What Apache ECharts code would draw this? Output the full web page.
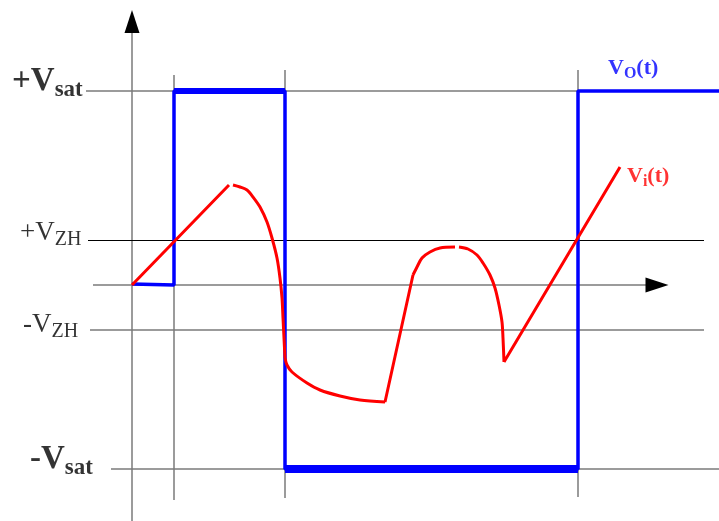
<!DOCTYPE html>
<html><head><meta charset="utf-8">
<script src="https://cdn.jsdelivr.net/npm/echarts@6/dist/echarts.min.js"></script>
<style>html,body{margin:0;padding:0;background:#fff}#c{width:719px;height:521px}</style>
</head><body><div id="c"></div>
<script>
// ---- axis ranges (arbitrary time / voltage units) ----
const tRange = [-13.2, 58.7];
const vRange = [-23.6, 28.5];

// ---- threshold / saturation levels ----
const levelNames  = ['+Vsat', '+VZH', '0', '-VZH', '-Vsat'];
const levelValues = [19.4, 4.5, 0, -4.5, -18.4];
const levelStart  = [-4.6, -4.4, -3.9, -4.2, -2.1];
const levelEnd    = [58.7, 57.2, 52.5, 57.2, 58.7];

// ---- switching instants ----
const switchTimes = [4.2, 15.3, 44.6];
const switchTop   = [21.0, 21.5, 21.5];
const switchBot   = [-21.5, -21.3, -21.2];

// ---- vertical (voltage) axis extent ----
const vAxisExtent = [-23.6, 26.35];

// ---- output voltage Vo(t) ----
const voT = [0, 4.2, 4.2, 15.3, 15.3, 44.6, 44.6, 58.7];
const voV = [0.1, 0, 19.4, 19.4, -18.4, -18.4, 19.4, 19.4];

// ---- input voltage Vi(t): pieces separated by null (pen lift / corner) ----
const viT = [0, 9.7, null,
  10.1, 10.8, 11.5, 12.1, 12.8, 13.5, 14.0, 14.5, 14.8, 15.0, 15.1, 15.2, 15.3, null,
  15.3, 15.5, 16.0, 17.5, 18.8, 20.8, 22.8, 25.3, null,
  25.3, 28.1, null,
  28.1, 28.5, 29.0, 29.8, 30.8, 32.3, null,
  32.7, 33.6, 34.5, 35.1, 35.8, 36.3, 36.7, 37.0, 37.1, 37.2, null,
  37.2, 48.8];
const viV = [0, 10.0, null,
  10.0, 9.8, 9.5, 8.8, 7.8, 6.3, 4.7, 2.7, 0.7, -1.3, -3.3, -5.3, -7.3, null,
  -7.3, -8.0, -8.7, -9.8, -10.5, -11.1, -11.5, -11.7, null,
  -11.7, 1.0, null,
  1.0, 1.8, 2.7, 3.3, 3.7, 3.8, null,
  3.8, 3.6, 3.0, 2.2, 1.0, -0.3, -2.0, -3.7, -5.3, -7.7, null,
  -7.7, 11.8];

// ---- text labels ----
const labelTexts = ['{mb|+V}{sb|sat}', '{mr|+V}{sr|ZH}', '{mr|-V}{sr|ZH}', '{mb|-V}{sb|sat}', '{om|V}{os|O}{om|(t)}', '{im|V}{is|i}{im|(t)}'];
const labelT = [-12.0, -11.2, -10.9, -10.2, 47.6, 49.5];
const labelV = [18.3, 3.5, -5.7, -19.5, 20.3, 9.5];

const vo = voT.map((t, i) => [t, voV[i]]);
const vi = viT.map((t, i) => (t === null ? '-' : [t, viV[i]]));

const grayLines = [], blackLines = [];
levelValues.forEach((v, i) => {
  if (levelNames[i] === '0') return;
  const seg = [{coord: [levelStart[i], v]}, {coord: [levelEnd[i], v]}];
  (levelNames[i] === '+VZH' ? blackLines : grayLines).push(seg);
});
switchTimes.forEach((t, i) => grayLines.push([{coord: [t, switchTop[i]]}, {coord: [t, switchBot[i]]}]));
const zeroIdx = levelNames.indexOf('0');
grayLines.push([{coord: [levelStart[zeroIdx], 0]}, {coord: [levelEnd[zeroIdx], 0]}]);
grayLines.push([{coord: [0, vAxisExtent[0]]}, {coord: [0, vAxisExtent[1]]}]);
const arrowHeads = [
  [{coord: [levelEnd[zeroIdx] - 0.3, 0]}, {coord: [levelEnd[zeroIdx], 0]}],
  [{coord: [0, vAxisExtent[1] - 0.3]}, {coord: [0, vAxisExtent[1]]}]
];

const serif = '"Liberation Serif", "Times New Roman", serif';
const tok = (size, weight, color, pb) => ({fontFamily: serif, fontSize: size, fontWeight: weight, color: color, verticalAlign: 'bottom', padding: [0, 0, pb, 0]});

const chart = echarts.init(document.getElementById('c'), null, {renderer: 'canvas'});
chart.setOption({
  animation: false,
  grid: {left: 0, right: 0, top: 0, bottom: 0},
  xAxis: {type: 'value', min: tRange[0], max: tRange[1], show: false},
  yAxis: {type: 'value', min: vRange[0], max: vRange[1], show: false},
  series: [
    {type: 'line', data: [], silent: true, z: 1,
      markLine: {silent: true, z: 1, symbol: 'none', label: {show: false}, animation: false,
        lineStyle: {color: '#7a7a7a', width: 1.5, type: 'solid'}, data: grayLines}},
    {type: 'line', data: [], silent: true, z: 1,
      markLine: {silent: true, z: 1, symbol: 'none', label: {show: false}, animation: false,
        lineStyle: {color: '#000', width: 1, type: 'solid'}, data: blackLines}},
    {type: 'line', data: [], silent: true, z: 1,
      markLine: {silent: true, z: 1, symbol: ['none', 'triangle'], symbolSize: [15, 23], label: {show: false}, animation: false,
        lineStyle: {color: '#000', width: 1, type: 'solid'}, data: arrowHeads}},
    {name: 'Vo', type: 'line', data: vo, showSymbol: false, symbol: 'none', silent: true, z: 3,
      lineStyle: {color: '#0000ff', width: 3.5}},
    {name: 'VoTop', type: 'line', data: vo.slice(2, 4), showSymbol: false, symbol: 'none', silent: true, z: 3,
      lineStyle: {color: '#0000ff', width: 6}},
    {name: 'VoBottom', type: 'line', data: vo.slice(4, 6), showSymbol: false, symbol: 'none', silent: true, z: 3,
      lineStyle: {color: '#0000ff', width: 8}},
    {name: 'Vi', type: 'line', data: vi, showSymbol: false, symbol: 'none', silent: true, z: 4,
      connectNulls: false, smooth: 0.3,
      lineStyle: {color: '#ff0000', width: 3}},
    {type: 'scatter', symbolSize: 0, silent: true, z: 5,
      data: labelTexts.map((s, i) => ({value: [labelT[i], labelV[i]], label: {formatter: s}})),
      label: {show: true, position: [0, 0], align: 'left', verticalAlign: 'bottom',
        rich: {
          mb: tok(33, 'bold', '#000', 4), sb: tok(23, 'bold', '#000', 0),
          mr: tok(27, 'normal', '#000', 4), sr: tok(20, 'normal', '#000', 0),
          om: tok(22, 'bold', '#0000ff', 3), os: tok(16, 'bold', '#0000ff', 0),
          im: tok(22, 'bold', '#ff0000', 3), is: tok(16, 'bold', '#ff0000', 0)
        }}}
  ]
});
</script></body></html>
